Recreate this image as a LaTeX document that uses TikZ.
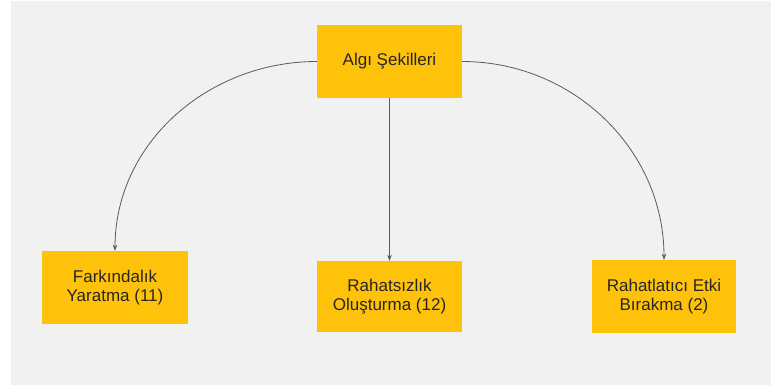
\documentclass[tikz,border=0pt]{standalone}
\usepackage{fontspec}
\setmainfont{Liberation Sans}
\usetikzlibrary{arrows.meta}
\definecolor{bggray}{HTML}{F1F1F1}
\definecolor{boxyellow}{HTML}{FFC20A}
\definecolor{linegray}{HTML}{5A5A5A}
\definecolor{txt}{HTML}{262626}
\tikzset{
  ybox/.style={fill=boxyellow, draw=none, text=txt, align=center,
    inner sep=0pt, font=\fontsize{17}{19.5}\selectfont},
  conn/.style={draw=linegray, line width=0.8pt,
    -{Stealth[length=6pt,width=4.5pt,fill=black]}}
}
\begin{document}
\begin{tikzpicture}[x=1pt,y=-1pt]
\useasboundingbox (0,0) rectangle (771,385);
\fill[bggray] (11,1) rectangle (771,385);
\node[ybox, minimum width=145pt, minimum height=73pt] (top) at (389.5,61.5) {Algı Şekilleri};
\node[ybox, minimum width=146pt, minimum height=73pt] (left) at (115,287.5) {Farkındalık\\Yaratma (11)};
\node[ybox, minimum width=145pt, minimum height=71pt] (mid) at (389.5,296.5) {Rahatsızlık\\Oluşturma (12)};
\node[ybox, minimum width=144pt, minimum height=73pt] (right) at (664,296.5) {Rahatlatıcı Etki\\Bırakma (2)};
\draw[conn] (top.west) to[out=180,in=90] (left.north);
\draw[conn] (top.south) -- (mid.north);
\draw[conn] (top.east) to[out=0,in=90] (right.north);
\end{tikzpicture}
\end{document}
